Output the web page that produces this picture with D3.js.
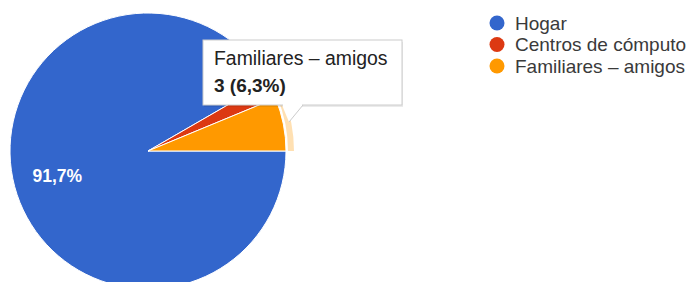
<!DOCTYPE html>
<html>
<head>
<meta charset="utf-8">
<script src="https://cdn.jsdelivr.net/npm/d3@7.9.0/dist/d3.min.js"></script>
<style>
  html, body { margin: 0; padding: 0; background: #fff; }
  svg { display: block; font-family: "Liberation Sans", Arial, sans-serif; }
</style>
</head>
<body>
<svg id="chart" width="690" height="282"></svg>
<script>
// slices, in drawing order (clockwise from 3 o'clock)
const categories = ['Hogar', 'Centros de cómputo', 'Familiares – amigos'];
const counts = [44, 1, 3];
const colors = ['#3366cc', '#dc3912', '#ff9900'];
const hovered = 2; // slice with the tooltip open

const cx = 148;
const cy = 151;
const radius = 138;

const total = d3.sum(counts);
const fmtPct = (v) => (Math.round((v / total) * 1000) / 10).toFixed(1).replace('.', ',') + '%';

const svg = d3.select('#chart');
const slices = categories.map((name, i) => ({ name, value: counts[i], color: colors[i] }));

const pie = d3.pie()
  .value((d) => d.value)
  .sort(null)
  .startAngle(Math.PI / 2)
  .endAngle(Math.PI / 2 + 2 * Math.PI);

const arcs = pie(slices);
const arc = d3.arc().innerRadius(0).outerRadius(radius);
const labelArc = d3.arc().innerRadius(radius * 0.68).outerRadius(radius * 0.68);
const ringArc = d3.arc().innerRadius(radius + 2).outerRadius(radius + 8);

const g = svg.append('g').attr('transform', `translate(${cx},${cy})`);

g.selectAll('path.slice')
  .data(arcs)
  .join('path')
  .attr('class', 'slice')
  .attr('d', arc)
  .attr('fill', (d) => d.data.color)
  .attr('stroke', '#fff')
  .attr('stroke-width', 1);

// hover ring
g.append('path')
  .attr('d', ringArc(arcs[hovered]))
  .attr('fill', colors[hovered])
  .attr('fill-opacity', 0.3);

// labels for slices large enough
g.selectAll('text.pct')
  .data(arcs.filter((d) => d.data.value / total > 0.5))
  .join('text')
  .attr('class', 'pct')
  .attr('transform', (d) => `translate(${labelArc.centroid(d)})`)
  .attr('text-anchor', 'middle')
  .attr('dy', '0.36em')
  .attr('fill', '#fff')
  .attr('font-size', 17.5)
  .attr('font-weight', 'bold')
  .text((d) => fmtPct(d.data.value));

// legend
const legend = svg.append('g').attr('transform', 'translate(497,23)');
const item = legend.selectAll('g')
  .data(slices)
  .join('g')
  .attr('transform', (d, i) => `translate(0,${i * 21.5})`);
item.append('circle').attr('r', 7.5).attr('fill', (d) => d.color);
item.append('text')
  .attr('x', 18)
  .attr('dy', '0.36em')
  .attr('font-size', 19)
  .attr('fill', '#3a3a3a')
  .text((d) => d.name);

// tooltip
const tip = svg.append('g');
const bx = 203, by = 40, bw = 199, bh = 65;
const tail = [[282, by + bh], [303, by + bh], [289, 122]];
tip.append('rect')
  .attr('x', bx + 1).attr('y', by + 2)
  .attr('width', bw).attr('height', bh)
  .attr('fill', '#000').attr('fill-opacity', 0.08);
tip.append('path')
  .attr('d', d3.line()(tail))
  .attr('fill', '#fff')
  .attr('stroke', '#ccc');
tip.append('rect')
  .attr('x', bx).attr('y', by)
  .attr('width', bw).attr('height', bh)
  .attr('fill', '#fff')
  .attr('stroke', '#ccc');
tip.append('path')
  .attr('d', `M${tail[0][0] + 1},${by + bh}L${tail[1][0] - 1},${by + bh}`)
  .attr('stroke', '#fff').attr('stroke-width', 2);
tip.append('text')
  .attr('x', 214).attr('y', 65)
  .attr('font-size', 19.4)
  .attr('fill', '#222')
  .text(categories[hovered]);
tip.append('text')
  .attr('x', 214).attr('y', 92)
  .attr('font-size', 19)
  .attr('font-weight', 'bold')
  .attr('fill', '#222')
  .text(`${counts[hovered]} (${fmtPct(counts[hovered])})`);
</script>
</body>
</html>
